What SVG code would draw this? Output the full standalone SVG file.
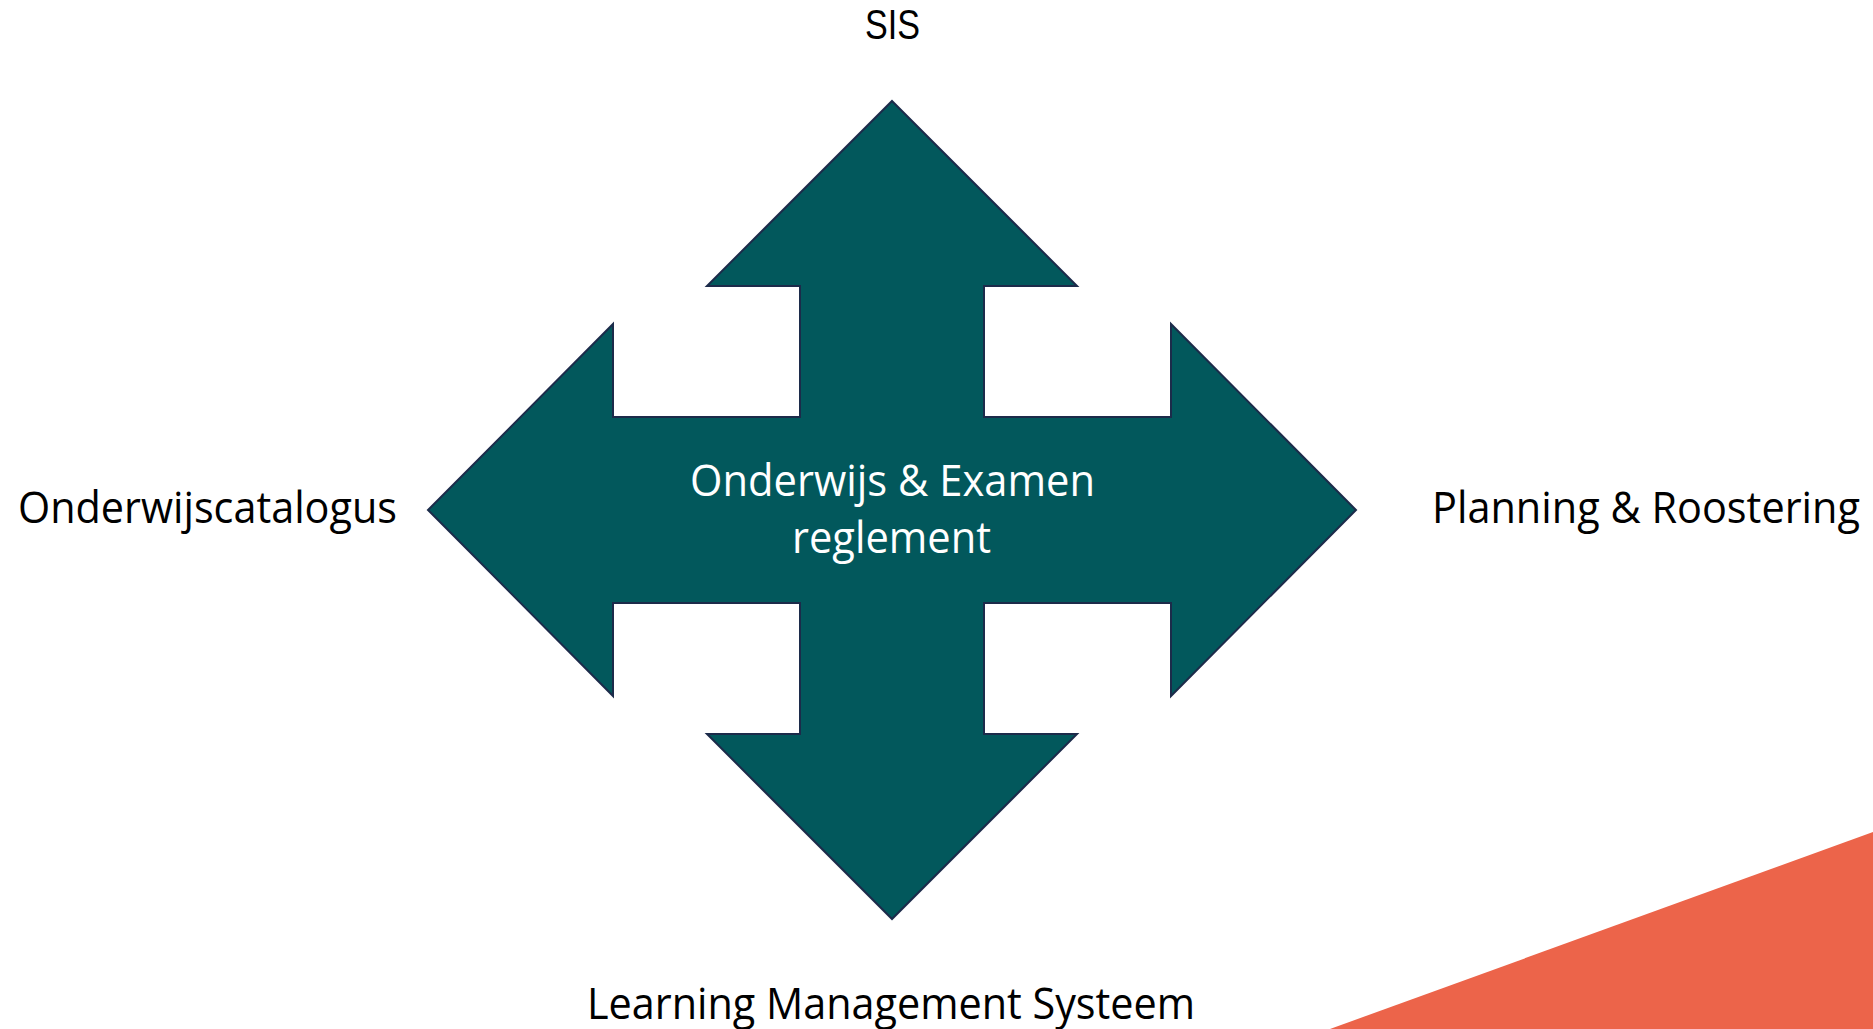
<svg xmlns="http://www.w3.org/2000/svg" width="1873" height="1029" viewBox="0 0 1873 1029">
  <style>
    .lbl { font-family: "Open Sans", "Noto Sans", "Liberation Sans", sans-serif; font-size: 43px; fill: #000000; }
    .top { font-family: "Liberation Sans", "Open Sans", sans-serif; font-size: 42px; fill: #000000; }
    .ctr { font-family: "Open Sans", "Noto Sans", "Liberation Sans", sans-serif; font-size: 44px; fill: #FFFFFF; }
    .arrow { fill: #02585C; stroke: #1C2B4A; stroke-width: 2; stroke-linejoin: miter; }
  </style>
  <rect x="0" y="0" width="1873" height="1029" fill="#FFFFFF"/>
  <polygon id="accent" points="1330,1029 1873,832 1873,1029" fill="#EC644A"/>
  <g id="connectors">
    <polygon class="arrow" points="892,101 1077,286 984,286 984,417 1171,417 1171,324 1356,510 1171,696 1171,603 984,603 984,734 1077,734 892,919 707,734 800,734 800,603 613,603 613,696 428,510 613,324 613,417 800,417 800,286 707,286"/>
  </g>
  <g id="center">
    <text class="ctr" x="892.5" y="496" text-anchor="middle" textLength="405" lengthAdjust="spacingAndGlyphs">Onderwijs &amp; Examen</text>
    <text class="ctr" x="891.5" y="553" text-anchor="middle" textLength="199" lengthAdjust="spacingAndGlyphs">reglement</text>
  </g>
  <g id="sis">
    <text class="top" x="892.5" y="39" text-anchor="middle" textLength="55" lengthAdjust="spacingAndGlyphs">SIS</text>
  </g>
  <g id="onderwijscatalogus">
    <text class="lbl" x="18" y="523" textLength="379" lengthAdjust="spacingAndGlyphs">Onderwijscatalogus</text>
  </g>
  <g id="planning">
    <text class="lbl" x="1432" y="523" textLength="428" lengthAdjust="spacingAndGlyphs">Planning &amp; Roostering</text>
  </g>
  <g id="lms">
    <text class="lbl" x="587" y="1019" textLength="608" lengthAdjust="spacingAndGlyphs">Learning Management Systeem</text>
  </g>
</svg>
